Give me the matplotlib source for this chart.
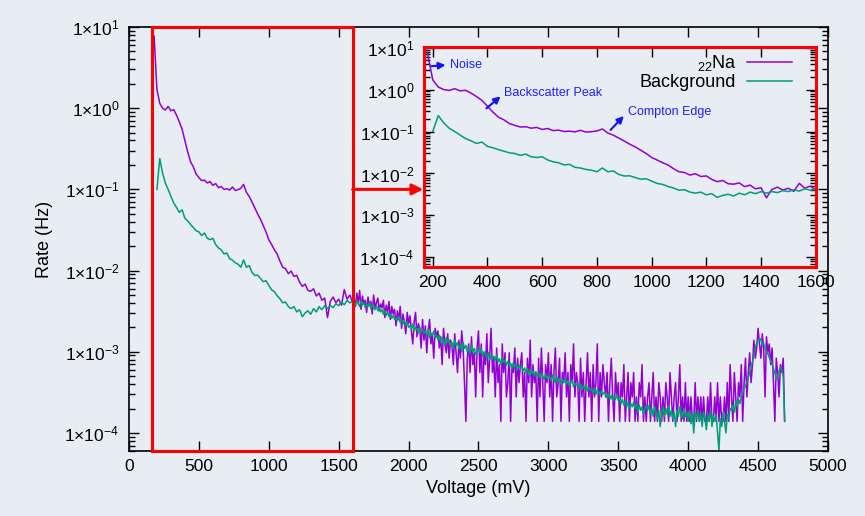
import numpy as np
import matplotlib
matplotlib.use('Agg')
import matplotlib.pyplot as plt
from matplotlib.ticker import FixedLocator, FuncFormatter, LogLocator, NullFormatter

plt.rcParams['font.family'] = ['Liberation Sans', 'DejaVu Sans']
plt.rcParams['mathtext.fontset'] = 'custom'
plt.rcParams['mathtext.rm'] = 'Liberation Sans'
plt.rcParams['mathtext.it'] = 'Liberation Sans:italic'

NA_LIVE_TIME = 7200.0  # s

# bin centres (mV): 20 mV bins up to 1600, 10 mV bins above
na_voltage = np.concatenate([np.arange(180, 1601, 20), np.arange(1610, 4691, 10)])
bg_voltage = np.concatenate([np.arange(200, 1601, 20), np.arange(1610, 4691, 10)])

# 22Na source: raw counts per bin
na_counts = [
    55440, 12240, 8280, 7200, 6840, 7560, 6696, 6912, 5904, 4896,
    3960, 2880, 2088, 1584, 1368, 1116, 1008, 922, 936, 864,
    900, 806, 850, 756, 778, 720, 734, 706, 770, 698,
    713, 742, 828, 662, 590, 504, 425, 360, 310, 259,
    216, 173, 151, 130, 115, 94, 79, 76, 66, 71,
    61, 63, 52, 46, 49, 41, 40, 43, 35, 38,
    31, 33, 19, 30, 34, 29, 32, 27, 42, 32,
    36, 29,
    # 1610 - 4690 mV
    33, 26, 38, 29, 41, 24, 35, 28, 31, 22,
    34, 27, 30, 21, 36, 25, 29, 33, 23, 28,
    25, 31, 19, 27, 22, 30, 18, 26, 21, 24,
    15, 23, 18, 26, 14, 21, 17, 12, 22, 16,
    20, 13, 9, 17, 22, 11, 16, 14, 8, 18,
    10, 15, 7, 13, 18, 9, 12, 6, 14, 11,
    13, 8, 11, 5, 14, 9, 7, 12, 6, 10,
    9, 5, 12, 7, 4, 10, 6, 13, 8, 3,
    1, 6, 9, 4, 11, 5, 7, 2, 8, 13,
    4, 9, 2, 7, 5, 12, 3, 6, 14, 4,
    6, 2, 8, 3, 5, 1, 9, 4, 7, 2,
    3, 7, 1, 5, 4, 8, 2, 6, 3, 5,
    7, 2, 4, 1, 6, 3, 10, 2, 5, 3,
    4, 1, 6, 2, 8, 3, 1, 5, 3, 7,
    2, 5, 1, 4, 8, 2, 3, 6, 1, 4,
    3, 7, 2, 4, 1, 5, 3, 9, 2, 4,
    3, 1, 6, 2, 4, 1, 3, 7, 2, 4,
    1, 5, 2, 3, 9, 1, 4, 2, 5, 3,
    2, 4, 1, 3, 6, 2, 1, 4, 2, 3,
    1, 3, 2, 5, 1, 2, 4, 1, 3, 2,
    4, 1, 2, 1, 3, 2, 5, 1, 2, 1,
    2, 3, 1, 2, 4, 1, 2, 1, 3, 2,
    1, 2, 1, 3, 2, 1, 4, 2, 1, 2,
    3, 1, 2, 5, 1, 2, 1, 3, 1, 2,
    1, 2, 1, 1, 3, 1, 2, 1, 2, 1,
    2, 1, 1, 2, 1, 3, 1, 1, 2, 1,
    3, 1, 2, 1, 1, 2, 1, 3, 1, 5,
    2, 1, 4, 2, 1, 3, 2, 5, 1, 3,
    6, 2, 4, 7, 3, 5, 10, 6, 8, 14,
    9, 6, 12, 8, 2, 11, 7, 9, 5, 8,
    3, 1, 6, 4, 2, 5, 4, 6, 1,
]

# background run: rate per bin (Hz)
bg_rate = [
    0.10, 0.24, 0.16, 0.12, 0.10, 0.082, 0.068, 0.060, 0.052, 0.056,
    0.044, 0.041, 0.037, 0.034, 0.031, 0.030, 0.027, 0.029, 0.025, 0.024,
    0.025, 0.021, 0.019, 0.018, 0.016, 0.0165, 0.014, 0.0135, 0.0125, 0.012,
    0.011, 0.0135, 0.011, 0.0115, 0.0095, 0.0087, 0.0088, 0.0080, 0.0073, 0.0075,
    0.0066, 0.0058, 0.0055, 0.0049, 0.0045, 0.0040, 0.0041, 0.0036, 0.0034, 0.0036,
    0.0031, 0.0033, 0.0027, 0.0030, 0.0032, 0.0029, 0.0034, 0.0031, 0.0036, 0.0033,
    0.0037, 0.0034, 0.0037, 0.0035, 0.0039, 0.0037, 0.0041, 0.0038, 0.0043, 0.0040,
    0.0042,
    # 1610 - 4690 mV
    0.0041, 0.0037, 0.0043, 0.0039, 0.0036, 0.0042, 0.0038, 0.0040, 0.0035, 0.0039,
    0.0036, 0.0040, 0.0034, 0.0038, 0.0035, 0.0033, 0.0037, 0.0032, 0.0035, 0.0031,
    0.0033, 0.0029, 0.0032, 0.0028, 0.0031, 0.0027, 0.0029, 0.0026, 0.0028, 0.0025,
    0.0026, 0.0024, 0.0027, 0.0023, 0.0025, 0.0022, 0.0024, 0.0021, 0.0023, 0.0020,
    0.0021, 0.0019, 0.0022, 0.0018, 0.0020, 0.0019, 0.0017, 0.0020, 0.0018, 0.0019,
    0.0017, 0.0018, 0.0016, 0.0019, 0.0015, 0.0017, 0.0016, 0.0018, 0.0015, 0.0016,
    0.0014, 0.0016, 0.0013, 0.0015, 0.0014, 0.0012, 0.0015, 0.0013, 0.0014, 0.0012,
    0.0013, 0.0011, 0.0014, 0.0012, 0.0013, 0.0011, 0.0012, 0.0010, 0.0013, 0.0011,
    0.0012, 0.0010, 0.0011, 0.00095, 0.0012, 0.0010, 0.0011, 0.00092, 0.0010, 0.0011,
    0.00098, 0.0011, 0.00088, 0.0010, 0.00092, 0.00085, 0.00098, 0.0008, 0.0009, 0.00083,
    0.00088, 0.00078, 0.00092, 0.00075, 0.00082, 0.0007, 0.00085, 0.00074, 0.00079, 0.00068,
    0.00076, 0.00068, 0.00072, 0.00062, 0.00074, 0.00065, 0.0007, 0.0006, 0.00068, 0.00063,
    0.00066, 0.00058, 0.00063, 0.00055, 0.00062, 0.00052, 0.0006, 0.00054, 0.00058, 0.0005,
    0.00057, 0.00051, 0.00055, 0.00048, 0.00054, 0.0005, 0.00046, 0.00053, 0.00047, 0.00051,
    0.00049, 0.00044, 0.00052, 0.00046, 0.00042, 0.00049, 0.00043, 0.00047, 0.0004, 0.00045,
    0.00043, 0.00047, 0.0004, 0.00044, 0.00038, 0.00042, 0.00045, 0.00037, 0.00041, 0.00039,
    0.00041, 0.00036, 0.0004, 0.00034, 0.00038, 0.00035, 0.00039, 0.00033, 0.00036, 0.00034,
    0.00035, 0.00031, 0.00036, 0.0003, 0.00034, 0.00032, 0.00029, 0.00033, 0.0003, 0.00032,
    0.0003, 0.00027, 0.00031, 0.00026, 0.00029, 0.00025, 0.00028, 0.00026, 0.0003, 0.00025,
    0.00027, 0.00023, 0.00026, 0.00022, 0.00025, 0.00021, 0.00024, 0.0002, 0.00023, 0.00021,
    0.00024, 0.0002, 0.00023, 0.00018, 0.00022, 0.00019, 0.00021, 0.00017, 0.0002, 0.00022,
    0.00019, 0.00022, 0.00017, 0.0002, 0.00016, 0.00021, 0.00018, 0.00015, 0.00019, 0.00012,
    0.00018, 0.00021, 0.00016, 0.0002, 0.00017, 0.00022, 0.00016, 0.00019, 0.00015, 0.00018,
    0.00012, 0.00019, 0.00016, 0.00021, 0.00017, 0.00015, 0.0002, 0.00016, 0.00018, 0.00014,
    0.00019, 0.00013, 0.00017, 0.0001, 0.00018, 0.00015, 0.00019, 0.00014, 0.00017, 0.00012,
    0.00018, 0.00015, 0.00011, 0.00017, 0.00014, 0.00019, 0.00012, 0.00016, 0.00014, 0.00017,
    0.0001, 0.00006, 0.00015, 0.00012, 0.00018, 0.00014, 0.0001, 0.00017, 0.00015, 0.0002,
    0.00019, 0.00022, 0.00018, 0.00024, 0.00021, 0.00026, 0.00023, 0.00028, 0.00031, 0.00035,
    0.00038, 0.00042, 0.00048, 0.00055, 0.00068, 0.00075, 0.0009, 0.0011, 0.0013, 0.00142,
    0.00136, 0.00145, 0.0012, 0.00128, 0.0011, 0.00102, 0.00095, 0.00085, 0.00078, 0.0007,
    0.00062, 0.00055, 0.00045, 0.0005, 0.00058, 0.00065, 0.0006, 0.0005, 0.00014,
]

na_rate = np.array(na_counts) / NA_LIVE_TIME

# zoomed region and labelled features
zoom_range = (168, 1600)
features = [
    ('Noise', (195, 3.6), (262, 3.9)),
    ('Backscatter Peak', (396, 0.356), (462, 0.82)),
    ('Compton Edge', (850, 0.109), (912, 0.29)),
]

BG = '#e8ecf3'
PURPLE = '#9400d3'
GREEN = '#009e73'


def sci_label(v, pos):
    return r'1$\times$10$^{%d}$' % int(round(np.log10(v)))


def style_log_axis(a):
    a.set_yscale('log')
    a.yaxis.set_major_locator(LogLocator(base=10, numticks=20))
    a.yaxis.set_minor_locator(LogLocator(base=10, subs=np.arange(2, 10), numticks=20))
    a.yaxis.set_major_formatter(FuncFormatter(sci_label))
    a.yaxis.set_minor_formatter(NullFormatter())
    a.tick_params(which='both', direction='in', top=True, right=True,
                  labelsize=12.5, width=1, color='black')
    a.tick_params(which='major', length=7)
    a.tick_params(which='minor', length=4)
    a.tick_params(axis='y', pad=7)
    a.tick_params(axis='x', pad=6)


fig = plt.figure(figsize=(8.65, 5.16), dpi=100)
fig.patch.set_facecolor(BG)

# main spectrum
ax = fig.add_axes([0.1491, 0.126, 0.8081, 0.8217])
ax.set_facecolor(BG)
ax.plot(na_voltage, na_rate, color=PURPLE, lw=1.1)
ax.plot(bg_voltage, bg_rate, color=GREEN, lw=1.1)
style_log_axis(ax)
ax.set_xlim(0, 5000)
ax.set_ylim(6e-5, 10)
ax.xaxis.set_major_locator(FixedLocator(np.arange(0, 5001, 500)))
for s in ax.spines.values():
    s.set_linewidth(1.2)
ax.set_xlabel('Voltage (mV)', fontsize=13, labelpad=4)
ax.set_ylabel('Rate (Hz)', fontsize=13, labelpad=8)

# box around the zoomed region, with arrow to the inset
ax.axvspan(zoom_range[0], zoom_range[1], ymin=0, ymax=1, fill=False,
           edgecolor='red', lw=2.2, zorder=6, clip_on=False)
ax.annotate('', xy=(2105, 0.1), xytext=(zoom_range[1], 0.1),
            arrowprops=dict(arrowstyle='-|>', color='red', lw=2.2,
                            mutation_scale=16, shrinkA=0, shrinkB=0))

# inset: low-voltage region
ax_in = fig.add_axes([0.4902, 0.4831, 0.4528, 0.4264])
ax_in.set_facecolor(BG)
ax_in.plot(na_voltage, na_rate, color=PURPLE, lw=1.1, label=r'$_{22}$Na')
ax_in.plot(bg_voltage, bg_rate, color=GREEN, lw=1.1, label='Background')
style_log_axis(ax_in)
ax_in.set_xlim(*zoom_range)
ax_in.set_ylim(6e-5, 10.5)
ax_in.xaxis.set_major_locator(FixedLocator(np.arange(200, 1601, 200)))
for s in ax_in.spines.values():
    s.set_color('red')
    s.set_linewidth(2.2)

for text, xy, xytext in features:
    ax_in.annotate(text, xy=xy, xytext=xytext, color='#1f1fff', fontsize=9,
                   ha='left', va='center',
                   arrowprops=dict(arrowstyle='<|-', color='#1010ff', lw=1.5,
                                   mutation_scale=10, relpos=(0, 0.5),
                                   shrinkA=1, shrinkB=0))

ax_in.legend(loc='upper right', bbox_to_anchor=(0.968, 1.02), frameon=False,
             markerfirst=False, fontsize=13, handlelength=2.5,
             handletextpad=0.6, labelspacing=0.05, borderaxespad=0.2)

fig.savefig('out.png', dpi=100, facecolor=BG)
